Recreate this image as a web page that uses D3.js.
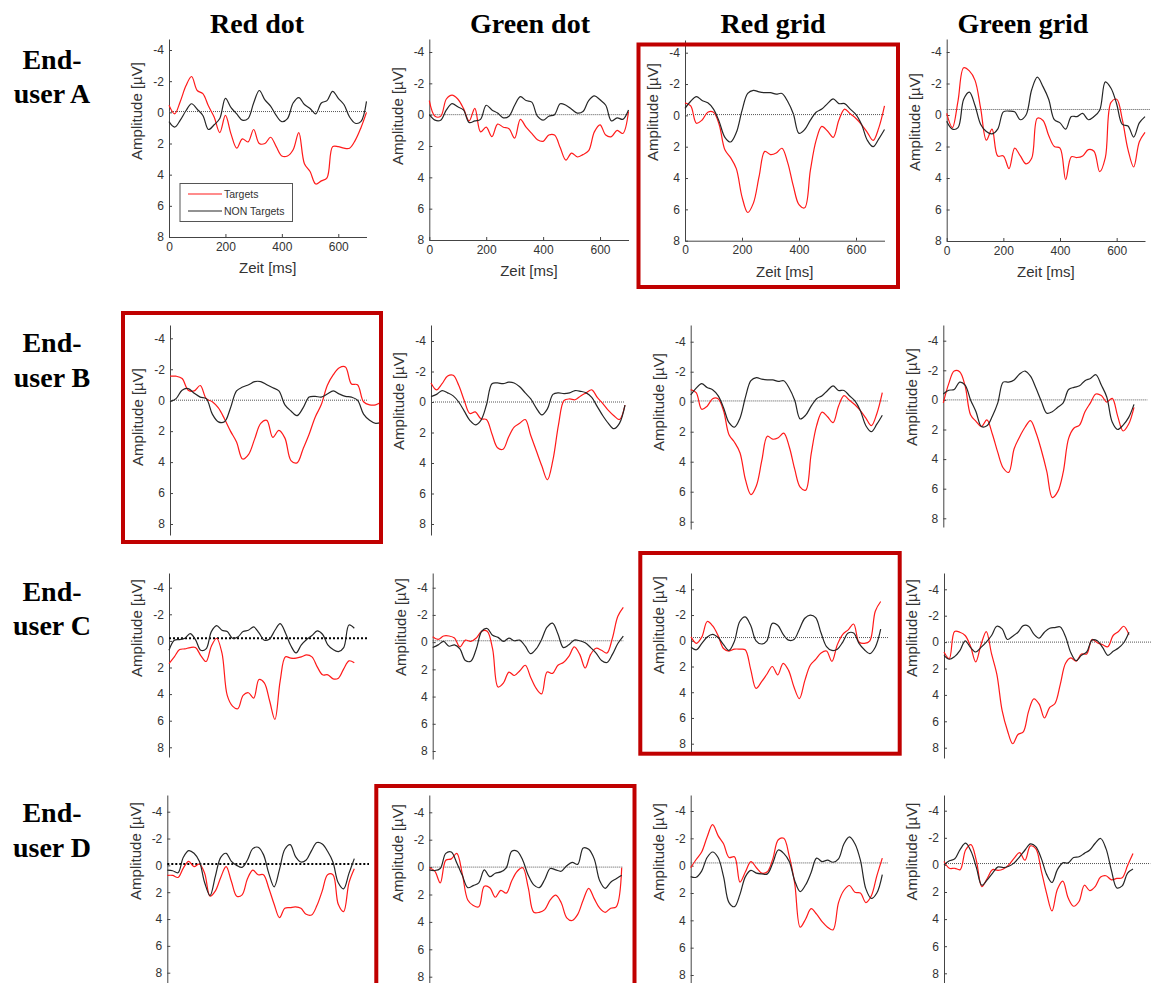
<!DOCTYPE html>
<html>
<head>
<meta charset="utf-8">
<script src="https://cdn.jsdelivr.net/npm/d3@7"></script>
<style>
  body { margin: 0; background: #fff; }
  svg { display: block; }
  .tick text { font-family: Arial, "Liberation Sans", sans-serif; font-size: 12px; fill: #333; }
  .axis-label { font-family: Arial, "Liberation Sans", sans-serif; font-size: 15px; fill: #333; }
  .head { font-family: "Times New Roman", "Liberation Serif", serif; font-weight: bold; font-size: 28px; fill: #000; }
</style>
</head>
<body>
<div id="chart"></div>
<script>
const paradigms = ['Red dot', 'Green dot', 'Red grid', 'Green grid']
const users = ['A', 'B', 'C', 'D']
const yTicks = [-4, -2, 0, 2, 4, 6, 8]
const xTicks = [0, 200, 400, 600]
const timeMs = [0, 20, 40, 60, 80, 100, 120, 140, 160, 180, 200, 220, 240, 260, 280, 300, 320, 340,
  360, 380, 400, 420, 440, 460, 480, 500, 520, 540, 560, 580, 600, 620, 640, 660, 680, 700]

// best paradigm per end-user (framed)
const bestPanels = ['A3', 'B1', 'C3', 'D2']

// dotted reference line: level (µV) and where it ends (ms)
const baselineLevel = [-0.05, 0, -0.05, -0.35, 0, 0, -0.05, 0, -0.2, -0.1, -0.25, 0, -0.1, 0, -0.2, -0.1]
const baselineEnd = [700, 700, 700, 720, 655, 700, 722, 750, 755, 700, 730, 783, 755, 703, 723, 764]

// ---- End-user A ----
const targetsA1 = [-0.45, 0.1, -0.7, -1.7, -2.3, -1.4, -1.2, -0.4, 0.3, 1.3, 0.2, 1.4, 2.3, 1.7, 1.9, 1.1, 2.0, 2.0,
  1.6, 2.2, 2.8, 2.8, 2.4, 1.3, 3.3, 3.8, 4.6, 4.4, 4.2, 2.2, 2.2, 2.3, 2.3, 1.8, 1.0, 0.0]
const nonTargetsA1 = [0.6, 0.95, 0.5, -0.1, -0.55, -0.2, 0.2, 1.1, 0.8, 0.4, -0.9, -0.3, 0.1, 0.5, 0.4, -0.6, -1.4, -0.8,
  -0.4, 0.2, 0.6, 0.4, -0.6, -0.95, -0.5, -0.25, 0.1, -0.6, -0.75, -1.35, -0.9, -0.5, 0.3, 0.7, 0.6, -0.7]
const targetsA2 = [-0.9, 0.1, 0.1, -1.0, -1.25, -1.0, -0.4, 0.4, -0.4, 1.1, 0.8, 1.4, 0.6, 0.8, 0.9, 1.5, 0.3, 0.8,
  1.2, 1.6, 1.7, 1.3, 1.3, 2.1, 2.9, 2.45, 2.7, 2.55, 2.3, 1.1, 0.65, 1.3, 1.4, 1.0, 1.2, -0.2]
const nonTargetsA2 = [0, 0.35, 0.35, -0.3, -0.7, -0.5, -0.3, 0.5, 0.4, 0.3, -0.6, -0.3, -0.1, 0.2, 0.1, -0.6, -1.15, -0.9,
  -0.8, 0.1, 0.35, 0.1, 0.0, -0.7, -0.6, -0.35, -0.1, -0.2, -0.9, -1.2, -0.95, -0.6, 0.4, 0.2, 0.3, -0.3]
const targetsA3 = [-0.8, -0.6, 0.5, 0.3, -0.2, -0.2, 0.6, 2.2, 2.7, 3.4, 5.2, 6.2, 5.6, 3.9, 2.3, 2.5, 2.4, 2.1,
  3.0, 4.5, 5.7, 5.9, 3.5, 1.6, 0.7, 1.0, 1.4, 0.3, -0.4, -0.1, 0.2, 0.6, 1.1, 1.6, 0.8, -0.6]
const nonTargetsA3 = [-0.45, -0.9, -1.2, -0.95, -0.8, -0.4, 0.4, 1.4, 1.7, 1.1, -0.3, -1.4, -1.6, -1.5, -1.45, -1.45, -1.35, -1.4,
  -0.9, -0.1, 1.15, 0.9, 0.3, -0.2, -0.4, -0.75, -1.05, -0.75, -0.75, -0.4, -0.05, 0.6, 1.6, 2.0, 1.5, 0.9]
const targetsA4 = [-0.1, 0.8, -0.9, -3.0, -2.8, -2.2, -0.4, 1.6, 0.9, 2.6, 2.6, 3.4, 2.1, 2.6, 3.1, 2.75, 0.2, 0.35,
  1.3, 2.0, 2.1, 4.1, 2.65, 2.7, 2.6, 2.2, 2.3, 3.6, 2.7, -0.8, -1.0, 0.3, 2.2, 3.3, 1.7, 1.1]
const nonTargetsA4 = [0.4, 0.9, 0.8, -1.0, -1.45, -0.6, 0.6, 1.05, 1.2, 0.9, -0.2, -0.25, -0.2, 0.3, 0.0, -1.6, -2.4, -1.8,
  -1.0, 0.3, 0.5, 0.9, 0.1, 0.1, -0.1, 0.3, 0.1, -0.3, -2.1, -1.7, -0.7, 0.6, 0.7, 1.4, 0.5, 0.1]

// ---- End-user B ----
const targetsB1 = [-1.55, -1.55, -1.4, -0.65, -0.6, -0.95, -0.1, 0.1, 0.5, 1.2, 2.0, 2.7, 3.8, 3.5, 2.5, 1.5, 1.3, 2.4,
  1.95, 2.45, 3.9, 4.05, 3.15, 2.2, 1.1, 0.3, -0.95, -1.65, -2.1, -2.15, -1.05, -1.0, 0.1, 0.3, 0.3, 0.1]
const nonTargetsB1 = [0.1, -0.1, -0.65, -0.75, -0.45, -0.2, -0.1, 0.9, 1.4, 1.4, 0.5, -0.6, -0.85, -1.0, -1.2, -1.2, -1.0, -0.8,
  -0.6, 0.3, 0.7, 1.0, 0.5, -0.2, -0.25, -0.2, -0.4, -0.6, -0.4, -0.25, -0.2, 0.0, 0.9, 1.3, 1.5, 1.4]
const targetsB2 = [-1.25, -0.8, -1.2, -1.7, -1.75, -1.1, -0.1, 0.75, 0.65, 1.1, 1.15, 2.1, 3.0, 3.1, 2.3, 1.65, 1.4, 1.15,
  2.2, 3.2, 4.2, 5.1, 3.8, 1.5, -0.1, -0.2, -0.15, -0.4, -0.6, -0.8, -0.3, 0.1, 0.55, 0.9, 1.15, 0.2]
const nonTargetsB2 = [-0.35, -0.5, -0.75, -0.6, -0.4, 0.0, 0.6, 1.2, 1.5, 1.2, 0.2, -1.2, -1.25, -1.2, -1.3, -1.25, -1.0, -0.6,
  -0.2, 0.4, 0.85, 0.45, -0.5, -0.6, -0.55, -0.6, -0.75, -0.7, -0.6, -0.3, 0.3, 0.9, 1.4, 1.75, 1.4, 0.2]
// the Red grid panel of end-user B shows the same averages as end-user A
const targetsB3 = targetsA3
const nonTargetsB3 = nonTargetsA3
const targetsB4 = [0.2, -1.1, -1.95, -1.9, -0.95, 1.0, 1.45, 1.8, 1.35, 2.3, 3.55, 4.6, 4.9, 3.3, 2.5, 1.85, 1.4, 2.2,
  3.4, 4.85, 6.6, 6.2, 4.9, 2.6, 1.9, 1.7, 0.8, 0.2, -0.4, -0.3, 0.15, -0.1, 1.1, 2.1, 1.65, 0.5]
const nonTargetsB4 = [-0.4, -0.65, -0.7, -1.2, -1.0, 0.0, 0.8, 1.8, 1.75, 1.1, 0.2, -1.2, -1.2, -1.35, -1.75, -1.95, -1.6, -0.8,
  0.1, 0.9, 0.8, 0.5, 0.2, -0.7, -0.85, -0.95, -1.3, -1.45, -1.7, -1.0, -0.2, 1.5, 2.0, 1.7, 1.2, 0.3]

// ---- End-user C ----
const targetsC1 = [1.7, 1.2, 0.65, 0.6, 0.5, 0.5, 1.1, 1.55, 0.4, -0.2, 0.9, 4.1, 4.9, 5.1, 4.1, 3.9, 4.3, 2.9,
  3.15, 4.5, 5.9, 3.0, 1.2, 1.3, 1.3, 1.2, 1.05, 1.2, 1.95, 2.55, 2.55, 2.85, 2.8, 2.1, 1.5, 1.65]
const nonTargetsC1 = [0.7, -0.05, -0.1, -0.2, -0.55, -0.1, 0.7, 0.6, -0.7, -1.15, -0.8, -0.7, -0.2, -0.3, -0.7, -0.8, -1.05, -0.6,
  -0.05, -0.15, -0.8, -1.3, -0.6, 0.35, 0.9, 0.3, -0.1, -0.4, -0.75, -0.5, 0.3, 0.65, 0.8, 0.5, -1.2, -0.95]
const targetsC2 = [-0.4, -0.2, -0.45, -0.45, -0.3, 0.35, -0.15, -0.05, -0.3, -0.8, -0.8, 0.5, 3.3, 3.0, 2.2, 2.45, 2.1, 1.7,
  2.6, 3.4, 3.8, 2.2, 2.3, 1.7, 1.5, 1.05, 0.35, 0.9, 1.9, 0.9, 0.45, 0.6, 0.8, -0.3, -1.9, -2.55]
const nonTargetsC2 = [0.4, 0.2, -0.05, 0.3, 0.2, 0.5, 1.35, 1.4, 0.5, -0.8, -1.0, -0.5, -0.35, -0.05, -0.3, -0.1, -0.15, 0.3,
  0.85, 0.5, -0.2, -1.1, -1.4, -0.6, 0.4, 0.2, -0.15, -0.1, 0.05, 0.4, 0.8, 1.35, 1.5, 0.9, 0.1, -0.45]
const targetsC3 = [-0.3, 0.2, -0.3, -1.5, -1.15, -0.4, 0.6, 0.8, 0.65, 0.65, 0.7, 2.2, 3.7, 3.2, 2.6, 2.0, 2.65, 1.75,
  2.3, 3.6, 4.5, 3.1, 1.9, 1.45, 0.95, 0.8, 1.6, 0.3, -0.5, -0.85, -1.3, 0.1, 0.2, 0.0, -2.3, -3.05]
const nonTargetsC3 = [0.5, 0.7, 0.2, -0.3, -0.5, -0.25, 0.3, 0.75, 0.05, -1.5, -1.85, -1.2, 0.0, 0.25, 0.0, -1.35, -1.2, -0.5,
  -0.05, -0.1, -0.9, -1.75, -2.0, -1.8, -0.6, 0.45, 0.75, 0.65, 0.1, -0.6, -0.6, 0.2, 0.7, 1.0, 0.5, -0.9]
const targetsC4 = [0.75, 1.25, -0.8, -0.75, -0.5, 0.3, 1.5, 0.2, -0.8, 0.9, 2.45, 5.2, 6.7, 7.7, 7.0, 6.8, 5.25, 4.3,
  4.7, 5.75, 4.95, 4.65, 3.2, 1.6, 1.2, 1.45, 0.9, 0.9, -0.2, 0.05, 0.2, 0.35, -0.5, -0.8, -1.2, -0.55]
const nonTargetsC4 = [1.0, 1.3, 1.1, 0.65, -0.1, 0.4, 0.75, 0.4, 0.0, -0.5, -1.2, -1.0, -0.2, -0.45, -0.75, -1.25, -1.2, -0.6,
  -0.3, -0.75, -1.05, -1.1, -1.15, -0.4, 0.8, 1.4, 1.0, 0.75, -0.15, -0.1, 0.4, 1.0, 0.7, 0.45, 0.05, -0.75]

// ---- End-user D ----
const targetsD1 = [0.75, 0.75, 0.9, 0.2, -0.3, 0.1, -0.1, 0.6, 2.3, 1.9, 0.9, 0.1, 1.2, 2.3, 2.2, 1.0, 0.35, 0.7,
  0.7, 1.7, 2.9, 3.9, 3.2, 3.15, 3.1, 3.2, 3.65, 3.7, 3.0, 1.9, 0.7, 0.7, 2.9, 3.45, 1.3, 0.25]
const nonTargetsD1 = [0.35, 0.4, 0.55, -0.6, -1.1, -0.9, -0.3, 1.3, 2.25, 0.8, -0.6, -0.9, -0.3, 0.0, 0.15, -0.4, -1.25, -1.35,
  -0.8, 0.6, 1.6, 0.3, -1.2, -1.55, -0.65, -0.25, -0.4, -1.1, -1.7, -1.6, -1.05, -0.25, 1.3, 1.75, 0.6, -0.5]
const targetsD2 = [0.05, 0.3, 1.15, -0.5, -0.6, -1.0, 0.5, 2.4, 2.8, 2.9, 1.4, 1.5, 2.2, 1.7, 1.9, 1.0, 0.3, 0.05,
  1.5, 3.3, 3.3, 3.1, 2.4, 2.05, 2.6, 3.7, 3.9, 3.45, 2.4, 1.55, 2.3, 3.0, 3.3, 3.0, 2.9, 0.05]
const nonTargetsD2 = [0.2, 0.25, 0.1, -1.0, -1.1, -0.3, 0.6, 1.5, 1.35, 1.15, 0.2, 0.7, 0.45, 0.35, 0.05, -1.15, -1.15, -0.5,
  0.6, 1.3, 1.5, 0.9, 0.1, 0.2, 0.3, -0.1, -0.35, -0.2, -1.4, -1.3, -0.6, 1.0, 1.55, 1.1, 0.85, 0.6]
const targetsD3 = [0.15, -0.45, -1.0, -2.1, -3.0, -2.2, -1.6, -0.6, -0.65, 1.2, 0.45, -0.3, 0.15, 0.55, 0.45, -0.5, -1.9, -2.0,
  -0.7, 1.3, 4.5, 3.9, 3.15, 3.55, 4.1, 4.5, 4.7, 2.7, 1.8, 1.45, 1.95, 2.0, 2.7, 2.2, 0.75, -0.55]
const nonTargetsD3 = [0.8, 0.85, 0.4, -0.6, -1.0, -0.6, 0.8, 2.7, 3.0, 2.1, 0.8, 0.35, 0.55, 0.6, 0.6, -0.2, -1.15, -0.9,
  -0.3, 1.1, 1.9, 1.4, 0.5, -0.55, -0.3, -0.4, -0.25, -0.5, -1.6, -2.1, -1.6, -0.4, 1.7, 2.4, 2.0, 0.65]
const targetsD4 = [-0.25, 0.25, 0.25, 0.35, -1.1, -1.5, -0.3, 1.6, 1.0, 0.35, 0.4, 0.3, 0.0, -0.5, -0.9, -0.35, -1.4, -1.2,
  0.4, 2.1, 3.4, 1.8, 1.2, 2.45, 3.05, 2.7, 1.5, 1.9, 1.6, 0.9, 0.8, 1.1, 1.0, 0.95, 0.05, -0.85]
const nonTargetsD4 = [0.0, -0.3, -0.45, -1.15, -1.6, -1.0, 0.2, 1.5, 1.1, 0.6, 0.15, 0.2, 0.1, -0.15, -0.6, -1.1, -1.55, -1.35,
  -0.5, 0.7, 1.3, 0.35, -0.15, -0.15, -0.55, -0.6, -0.85, -1.1, -1.6, -1.95, -1.2, 0.4, 1.7, 1.55, 0.6, 0.3]

const series = {
  A1: [targetsA1, nonTargetsA1], A2: [targetsA2, nonTargetsA2], A3: [targetsA3, nonTargetsA3], A4: [targetsA4, nonTargetsA4],
  B1: [targetsB1, nonTargetsB1], B2: [targetsB2, nonTargetsB2], B3: [targetsB3, nonTargetsB3], B4: [targetsB4, nonTargetsB4],
  C1: [targetsC1, nonTargetsC1], C2: [targetsC2, nonTargetsC2], C3: [targetsC3, nonTargetsC3], C4: [targetsC4, nonTargetsC4],
  D1: [targetsD1, nonTargetsD1], D2: [targetsD2, nonTargetsD2], D3: [targetsD3, nonTargetsD3], D4: [targetsD4, nonTargetsD4]
}

// ── PANEL GEOMETRY (pixels) ───────────────────────────────────
// x0/x1: 0 and 700 ms, yA/yB: -4 and 8 µV, top/bottom: ends of the y axis line
const frames = {
  A1: { x0: 169, x1: 366.5, yA: 50, yB: 237, top: 39, bottom: 237, labelY: 111 },
  A2: { x0: 429.3, x1: 628.5, yA: 52, yB: 240, top: 39, bottom: 240, labelY: 116 },
  A3: { x0: 685, x1: 884.5, yA: 52.7, yB: 240.7, top: 40, bottom: 240.7, labelY: 112 },
  A4: { x0: 946.7, x1: 1145, yA: 52, yB: 241, top: 39, bottom: 241, labelY: 122 },
  B1: { x0: 170, x1: 381.7, yA: 338.3, yB: 524, top: 325, bottom: 535, labelY: 417 },
  B2: { x0: 431, x1: 625, yA: 341, yB: 524, top: 325, bottom: 535, labelY: 401 },
  B3: { x0: 690.7, x1: 882.3, yA: 341.7, yB: 521.7, top: 325, bottom: 529, labelY: 402 },
  B4: { x0: 943.3, x1: 1134, yA: 340.7, yB: 518.3, top: 325, bottom: 527, labelY: 397 },
  C1: { x0: 169, x1: 354.3, yA: 587.7, yB: 747.3, top: 573, bottom: 757, labelY: 628 },
  C2: { x0: 432.7, x1: 623.3, yA: 587.7, yB: 751, top: 573, bottom: 759, labelY: 627 },
  C3: { x0: 691, x1: 880.7, yA: 589.3, yB: 743.7, top: 573, bottom: 752, labelY: 625 },
  C4: { x0: 944, x1: 1129, yA: 589.3, yB: 747.7, top: 573, bottom: 758, labelY: 628 },
  D1: { x0: 167.3, x1: 354.3, yA: 811.7, yB: 972.7, top: 795, bottom: 983, labelY: 851 },
  D2: { x0: 429.3, x1: 621.7, yA: 812.3, yB: 976.7, top: 795, bottom: 983, labelY: 853 },
  D3: { x0: 690.7, x1: 882.3, yA: 811, yB: 975, top: 795, bottom: 983, labelY: 852 },
  D4: { x0: 944, x1: 1133, yA: 810.7, yB: 973.3, top: 795, bottom: 983, labelY: 851.5 }
}
const highlightBoxes = {
  A3: [638.5, 44.5, 898, 287], B1: [123, 313, 381, 542], C3: [640.3, 553, 899.7, 753.7], D2: [376.3, 786, 634.5, 990]
}
const titleX = [257, 530, 773, 1023]
const rowLabelY = [[69, 103], [352, 387], [601, 635], [822, 857]]

const width = 1153
const height = 983
const axisColor = '#444'

const svg = d3.select('#chart').append('svg')
  .attr('width', width).attr('height', height)
  .attr('viewBox', `0 0 ${width} ${height}`)

svg.append('rect').attr('width', width).attr('height', height).attr('fill', '#fff')

// ── HEADERS ───────────────────────────────────────────────────
svg.selectAll('.col-title')
  .data(paradigms)
  .join('text')
  .attr('class', 'head')
  .attr('x', (d, i) => titleX[i])
  .attr('y', 33)
  .attr('text-anchor', 'middle')
  .text(d => d)

users.forEach((u, r) => {
  const t = svg.append('text').attr('class', 'head').attr('text-anchor', 'middle')
  t.append('tspan').attr('x', 52).attr('y', rowLabelY[r][0]).text('End-')
  t.append('tspan').attr('x', 52).attr('y', rowLabelY[r][1]).text(`user ${u}`)
})

// plain hyphen minus, as in the MATLAB export
const tickFmt = d => String(d)

// ── PANELS ────────────────────────────────────────────────────
users.forEach((u, r) => {
  paradigms.forEach((p, c) => {
    const key = `${u}${c + 1}`
    const f = frames[key]
    const [targets, nonTargets] = series[key]
    const idx = r * 4 + c

    const x = d3.scaleLinear().domain([0, 700]).range([f.x0, f.x1])
    const y = d3.scaleLinear().domain([-4, 8]).range([f.yA, f.yB])
    const yAxisScale = d3.scaleLinear()
      .domain([y.invert(f.top), y.invert(f.bottom)])
      .range([f.top, f.bottom])

    const g = svg.append('g').attr('class', `panel panel-${key}`)

    // y axis, MATLAB style ticks pointing inwards
    const ya = g.append('g')
      .attr('transform', `translate(${f.x0},0)`)
      .call(d3.axisLeft(yAxisScale).tickValues(yTicks).tickFormat(tickFmt)
        .tickSize(-3).tickSizeOuter(0).tickPadding(5))
    ya.select('.domain').attr('stroke', axisColor)
    ya.selectAll('.tick line').attr('stroke', axisColor)

    g.append('text')
      .attr('class', 'axis-label')
      .attr('transform', `translate(${f.x0 - 32},${f.labelY}) rotate(-90)`)
      .attr('text-anchor', 'middle')
      .attr('dy', '0.35em')
      .text('Amplitude [µV]')

    // only the top row carries a time axis
    if (r === 0) {
      const xa = g.append('g')
        .attr('transform', `translate(0,${f.bottom})`)
        .call(d3.axisBottom(x).tickValues(xTicks).tickFormat(tickFmt)
          .tickSize(-3).tickSizeOuter(0).tickPadding(5))
      xa.select('.domain').attr('stroke', axisColor)
      xa.selectAll('.tick line').attr('stroke', axisColor)
      g.append('text')
        .attr('class', 'axis-label')
        .attr('x', (f.x0 + f.x1) / 2)
        .attr('y', f.bottom + 36)
        .attr('text-anchor', 'middle')
        .text('Zeit [ms]')
    }

    // dotted zero line
    const thick = key === 'C1' || key === 'D1'
    g.append('line')
      .attr('x1', x(0)).attr('x2', x(baselineEnd[idx]))
      .attr('y1', y(baselineLevel[idx])).attr('y2', y(baselineLevel[idx]))
      .attr('stroke', thick ? '#000' : '#555')
      .attr('stroke-width', thick ? 2 : 1)
      .attr('stroke-dasharray', thick ? '2,2' : '1,1')

    const line = d3.line()
      .x((d, i) => x(timeMs[i]))
      .y(d => y(d))
      .curve(d3.curveCatmullRom.alpha(0.5))

    g.append('path').datum(targets)
      .attr('d', line).attr('fill', 'none')
      .attr('stroke', '#ff1a1a').attr('stroke-width', 1.2)
    g.append('path').datum(nonTargets)
      .attr('d', line).attr('fill', 'none')
      .attr('stroke', '#262626').attr('stroke-width', 1.2)

    // legend only in the first panel
    if (key === 'A1') {
      const lg = g.append('g').attr('transform', 'translate(180,183.5)')
      lg.append('rect').attr('width', 112.5).attr('height', 38)
        .attr('fill', '#fff').attr('stroke', '#555').attr('stroke-width', 1)
      const items = [{ label: 'Targets', color: '#ff1a1a' }, { label: 'NON Targets', color: '#262626' }]
      const li = lg.selectAll('.li').data(items).join('g')
        .attr('transform', (d, i) => `translate(0,${10.5 + i * 17})`)
      li.append('line').attr('x1', 8).attr('x2', 42).attr('stroke', d => d.color).attr('stroke-width', 1.2)
      li.append('text').attr('x', 44).attr('dy', '0.35em')
        .style('font-family', 'Arial, "Liberation Sans", sans-serif')
        .style('font-size', '10.5px').attr('fill', '#333')
        .text(d => d.label)
    }
  })
})

// ── FRAMES AROUND THE BEST PARADIGM ──────────────────────────
svg.selectAll('.best')
  .data(bestPanels)
  .join('rect')
  .attr('class', 'best')
  .attr('x', d => highlightBoxes[d][0])
  .attr('y', d => highlightBoxes[d][1])
  .attr('width', d => highlightBoxes[d][2] - highlightBoxes[d][0])
  .attr('height', d => highlightBoxes[d][3] - highlightBoxes[d][1])
  .attr('fill', 'none')
  .attr('stroke', '#c00000')
  .attr('stroke-width', 4)
</script>
</body>
</html>
